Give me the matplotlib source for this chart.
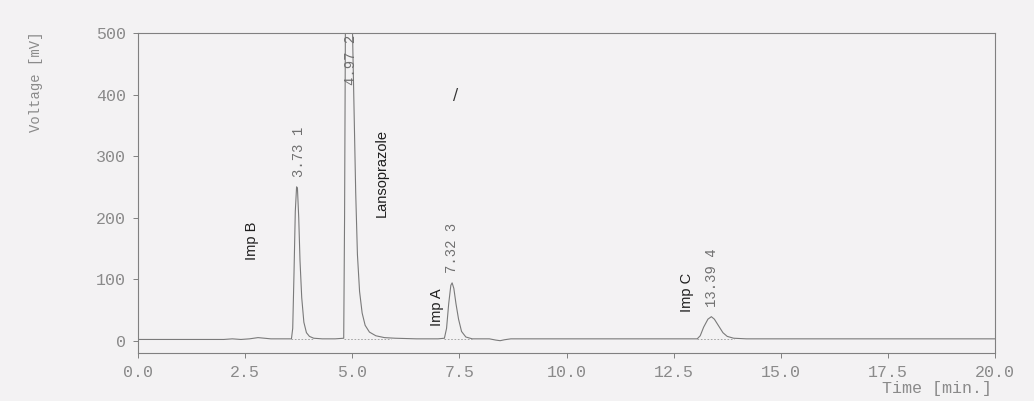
import matplotlib
matplotlib.use("Agg")
import matplotlib.pyplot as plt

# chromatogram trace (time [min], voltage [mV])
time = [0.0, 1.0, 2.0, 2.2, 2.4, 2.6, 2.8, 2.95, 3.1, 3.3, 3.58,
        3.61, 3.64, 3.67, 3.70, 3.72, 3.75, 3.78, 3.82, 3.87, 3.93, 4.0, 4.1, 4.3, 4.6, 4.80,
        4.82, 4.84, 4.88, 4.94, 5.00, 5.04, 5.08, 5.12, 5.17, 5.23, 5.30, 5.40, 5.55, 5.75, 6.0,
        6.5, 7.0, 7.15,
        7.20, 7.25, 7.30, 7.33, 7.37, 7.42, 7.48, 7.55, 7.65, 7.8, 8.2, 8.35, 8.45, 8.55, 8.7,
        10.0, 12.0, 13.05,
        13.12, 13.2, 13.3, 13.38, 13.45, 13.55, 13.65, 13.75, 13.9, 14.2, 16.0, 18.0, 20.0]
voltage = [2, 2, 2, 3, 2, 3, 5, 4, 3, 3, 3,
           20, 110, 210, 250, 248, 200, 130, 70, 30, 13, 7, 4, 3, 3, 4,
           200, 520, 700, 720, 520, 380, 240, 140, 80, 45, 25, 14, 8, 5, 4,
           3, 3, 4,
           20, 60, 90, 94, 85, 60, 35, 15, 6, 3, 3, 1, 0, 1.5, 3,
           3, 3, 3,
           8, 22, 35, 39, 35, 24, 13, 7, 4, 3, 3, 3, 3]

# integration baselines under the peaks
base_start = [3.58, 4.80, 7.15, 13.05]
base_end = [4.1, 5.9, 7.8, 13.9]

# retention time labels
rt_labels = ["3.73 1", "4.97 2", "7.32 3", "13.39 4"]
rt_x = [3.76, 4.97, 7.33, 13.40]
rt_y = [266, 415, 110, 55]

# hand-written peak names
names = ["Imp B", "Lansoprazole", "Imp A", "Imp C"]
names_x = [2.66, 5.69, 6.98, 12.81]
names_y = [162, 272, 55, 78]

bg = "#f3f2f3"
grey = "#8a8a8a"
mono = ["Liberation Mono", "DejaVu Sans Mono"]
sans = ["Liberation Sans", "DejaVu Sans"]

fig = plt.figure(figsize=(10.34, 4.01), dpi=100, facecolor=bg)
ax = fig.add_axes([0.1335, 0.1197, 0.8288, 0.798])
ax.set_facecolor(bg)

ax.plot(time, voltage, color="#7a7a7a", lw=0.8)
ax.hlines([3] * len(base_start), base_start, base_end, colors="#9a9a9a",
          linestyles=(0, (2, 2)), lw=0.6)

for lab, x, y in zip(rt_labels, rt_x, rt_y):
    ax.text(x, y, lab, rotation=90, ha="center", va="bottom",
            family=mono, fontsize=10, color="#707070")

for lab, x, y in zip(names, names_x, names_y):
    ax.text(x, y, lab, rotation=90, ha="center", va="center",
            family=sans, fontsize=10.5, color="#1e1e1e")

# stray pen mark on the scan
ax.text(7.42, 398, "/", ha="center", va="center", fontsize=11, color="#333333")

ax.set_xlim(0, 20)
ax.set_ylim(-20, 500)
ax.set_xticks([0, 2.5, 5, 7.5, 10, 12.5, 15, 17.5, 20])
ax.set_xticklabels(["0.0", "2.5", "5.0", "7.5", "10.0", "12.5", "15.0", "17.5", "20.0"])
ax.set_yticks([0, 100, 200, 300, 400, 500])

for sp in ax.spines.values():
    sp.set_color("#808080")
    sp.set_linewidth(0.8)
ax.tick_params(direction="out", length=3.5, width=0.7, color="#808080",
               labelcolor=grey, labelsize=12, pad=5)
for t in ax.get_xticklabels() + ax.get_yticklabels():
    t.set_family(mono)

ax.set_ylabel("Voltage [mV]", family=mono, fontsize=10, color=grey)
ax.yaxis.set_label_coords(-0.111, 0.847)
ax.set_xlabel("Time [min.]", family=mono, fontsize=12, color=grey, ha="right", va="center")
ax.xaxis.set_label_coords(0.997, -0.11)

fig.savefig("out.png", dpi=100, facecolor=bg)
